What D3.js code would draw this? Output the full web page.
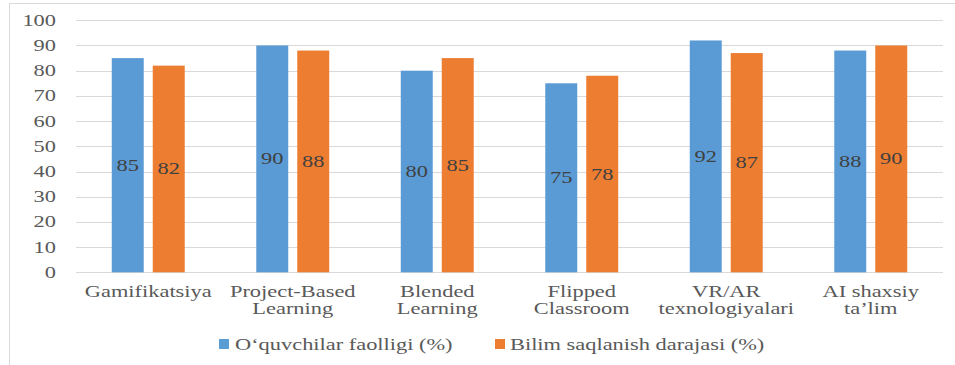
<!DOCTYPE html>
<html>
<head>
<meta charset="utf-8">
<script src="https://cdn.jsdelivr.net/npm/d3@7"></script>
<style>
  html, body { margin: 0; padding: 0; background: #ffffff; }
  svg { display: block; }
</style>
</head>
<body>
<svg id="chart" width="955" height="365" font-family="'Liberation Serif', 'DejaVu Serif', serif"></svg>
<script>
const categories = [
  ["Gamifikatsiya"],
  ["Project-Based", "Learning"],
  ["Blended", "Learning"],
  ["Flipped", "Classroom"],
  ["VR/AR", "texnologiyalari"],
  ["AI shaxsiy", "ta’lim"]
];
const seriesNames = ["O‘quvchilar faolligi (%)", "Bilim saqlanish darajasi (%)"];
const activity = [85, 90, 80, 75, 92, 88];
const retention = [82, 88, 85, 78, 87, 90];
const yTicks = [0, 10, 20, 30, 40, 50, 60, 70, 80, 90, 100];
const colors = ["#5B9BD5", "#ED7D31"];

const FONT = "'Liberation Serif', 'DejaVu Serif', serif";
const FS = 16;
const SX = 1.4; // horizontal stretch of the reference's text
const svg = d3.select("#chart");

// outer frame
svg.append("rect")
  .attr("x", 9.5).attr("y", 3.5)
  .attr("width", 980).attr("height", 400)
  .attr("fill", "none").attr("stroke", "#d9d9d9").attr("stroke-width", 1);

const plot = { left: 76, right: 943, top: 20.3, bottom: 272.3 };

const x0 = d3.scaleBand()
  .domain(d3.range(categories.length))
  .range([plot.left, plot.right])
  .paddingInner(0.495)
  .paddingOuter(0.2475);

const x1 = d3.scaleBand()
  .domain([0, 1])
  .range([0, x0.bandwidth()])
  .paddingInner(0.22);

const y = d3.scaleLinear().domain([0, 100]).range([plot.bottom, plot.top]);

function stretchedText(sel, x, yy) {
  return sel.attr("transform", `translate(${x},${yy}) scale(${SX},1)`)
    .style("font-family", FONT)
    .attr("font-size", FS);
}

// gridlines
svg.append("g")
  .selectAll("line")
  .data(yTicks)
  .join("line")
  .attr("x1", plot.left).attr("x2", plot.right)
  .attr("y1", d => Math.round(y(d)) + 0.5).attr("y2", d => Math.round(y(d)) + 0.5)
  .attr("stroke", "#d9d9d9").attr("stroke-width", 1);

// y tick labels
svg.append("g")
  .selectAll("text")
  .data(yTicks)
  .join("text")
  .each(function(d) { stretchedText(d3.select(this), 56, y(d) + 5.5); })
  .attr("text-anchor", "end")
  .attr("fill", "#595959")
  .text(d => d);

// bars
const data = categories.map((c, i) => ({ i, vals: [activity[i], retention[i]] }));
const groups = svg.append("g")
  .selectAll("g")
  .data(data)
  .join("g")
  .attr("transform", d => `translate(${x0(d.i)},0)`);

groups.selectAll("rect")
  .data(d => d.vals.map((v, s) => ({ v, s })))
  .join("rect")
  .attr("x", d => x1(d.s))
  .attr("width", x1.bandwidth())
  .attr("y", d => y(d.v))
  .attr("height", d => y(0) - y(d.v))
  .attr("fill", d => colors[d.s]);

groups.selectAll("text.val")
  .data(d => d.vals.map((v, s) => ({ v, s })))
  .join("text")
  .attr("class", "val")
  .each(function(d) { stretchedText(d3.select(this), x1(d.s) + x1.bandwidth() / 2, y(d.v / 2) + 5.5); })
  .attr("text-anchor", "middle")
  .attr("fill", "#404040")
  .text(d => d.v);

// category labels
const catG = svg.append("g");
categories.forEach((lines, i) => {
  lines.forEach((ln, k) => {
    catG.append("text")
      .call(s => stretchedText(s, x0(i) + x0.bandwidth() / 2, 296.5 + k * 17.8))
      .attr("text-anchor", "middle")
      .attr("fill", "#595959")
      .text(ln);
  });
});

// legend
const legendItems = [
  { name: seriesNames[0], color: colors[0], sx: 219, tx: 235 },
  { name: seriesNames[1], color: colors[1], sx: 495, tx: 510 }
];
const leg = svg.append("g");
legendItems.forEach(it => {
  leg.append("rect")
    .attr("x", it.sx).attr("y", 339)
    .attr("width", 10).attr("height", 10)
    .attr("fill", it.color);
  leg.append("text")
    .call(s => stretchedText(s, it.tx, 350))
    .attr("fill", "#595959")
    .text(it.name);
});
</script>
</body>
</html>
